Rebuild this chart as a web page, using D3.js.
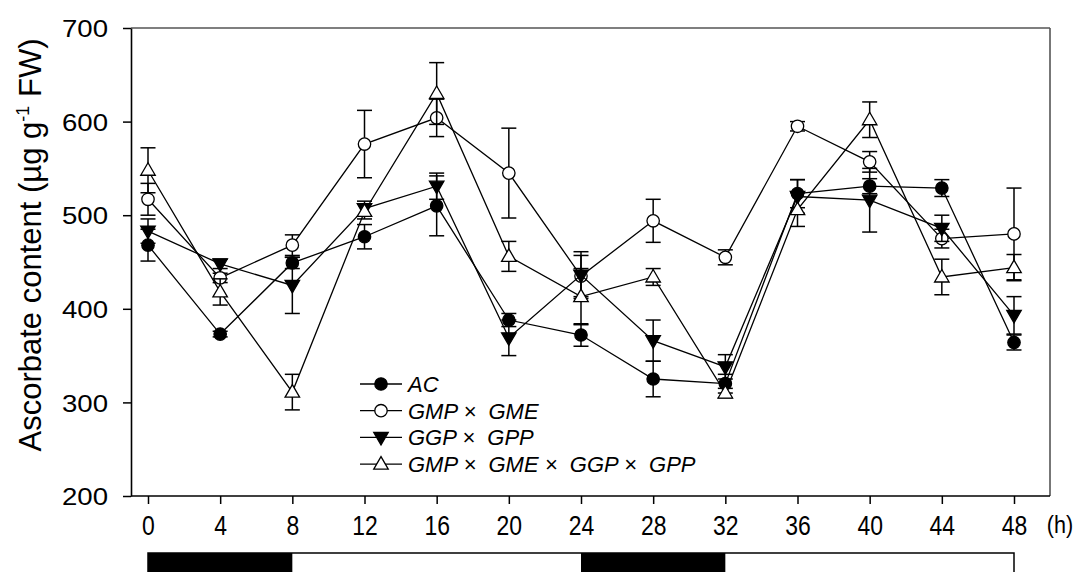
<!DOCTYPE html>
<html><head><meta charset="utf-8">
<script src="https://cdn.jsdelivr.net/npm/d3@7"></script>
<style>body{margin:0;background:#fff}svg{display:block}text{font-family:"Liberation Sans",Arial,sans-serif}</style>
</head><body>
<svg id="c" width="1079" height="572"></svg>
<script>
const hours = [0,4,8,12,16,20,24,28,32,36,40,44,48];
const yTicks = [200,300,400,500,600,700];
const seriesNames = ["AC","GMP × GME","GGP × GPP","GMP × GME × GGP × GPP"];
const acVals   = [468,373,449,477,510,388,372,325,320,523,531,529,364];
const acErr    = [17,3,6,13,32,7,12,19,10,15,8,9,8];
const gmVals   = [517,433,468,576,604,545,435,494,455,595,557,475,480];
const gmErr    = [17,5,11,36,20,48,22,23,8,5,11,10,49];
const ggVals   = [483,448,425,507,531,369,436,366,338,520,516,486,393];
const ggErr    = [13,5,30,8,14,19,25,22,13,18,34,14,20];
const allVals  = [548,418,311,504,630,456,413,434,310,506,602,434,444];
const allErr   = [24,14,19,8,33,16,30,9,5,18,19,19,14];
const darkPeriods = [[0,8],[24,32]];

const svg = d3.select("#c");
const L=131,R=1050,T=28,B=496;
const x = d3.scaleLinear().domain([0,48]).range([148,1014]);
const y = d3.scaleLinear().domain([200,700]).range([B,T]);

const series = [
  {name:seriesNames[0], v:acVals, e:acErr, shape:"circle", fill:"#000"},
  {name:seriesNames[1], v:gmVals, e:gmErr, shape:"circle", fill:"#fff"},
  {name:seriesNames[2], v:ggVals, e:ggErr, shape:"down", fill:"#000"},
  {name:seriesNames[3], v:allVals, e:allErr, shape:"up", fill:"#fff"}
];

function marker(g, shape, fill, cx, cy){
  if(shape==="circle"){
    g.append("circle").attr("cx",cx).attr("cy",cy).attr("r",6.2)
     .attr("fill",fill).attr("stroke","#000").attr("stroke-width",1.3);
  } else {
    const s = shape==="up" ? 1 : -1;
    const h=12.5, w=14.5;
    const pts = [[cx,cy-s*h*0.6],[cx-w/2,cy+s*h*0.4],[cx+w/2,cy+s*h*0.4]];
    g.append("path").attr("d","M"+pts.map(p=>p.join(",")).join("L")+"Z")
     .attr("fill",fill).attr("stroke","#000").attr("stroke-width",1.3);
  }
}

// frame
svg.append("line").attr("x1",L).attr("x2",R).attr("y1",T).attr("y2",T).attr("stroke","#555").attr("stroke-width",1.6);
svg.append("line").attr("x1",R).attr("x2",R).attr("y1",T).attr("y2",B).attr("stroke","#555").attr("stroke-width",1.6);

// y axis
const yAxis = d3.axisLeft(y).tickValues(yTicks).tickSize(8).tickPadding(0).tickSizeOuter(0);
const gy = svg.append("g").attr("transform",`translate(${L},0)`).call(yAxis);
gy.select(".domain").attr("stroke","#000").attr("stroke-width",1.6);
gy.selectAll(".tick line").attr("stroke","#000").attr("stroke-width",1.5);
gy.selectAll(".tick text").attr("font-size",24).attr("fill","#000")
  .attr("font-family","Liberation Sans, Arial, sans-serif")
  .attr("x",0).attr("dy","0.36em")
  .attr("transform","translate(-23,0) scale(1.15,1)");

// x axis
const xAxis = d3.axisBottom(x).tickValues(hours).tickSize(8).tickSizeOuter(0);
const gx = svg.append("g").attr("transform",`translate(0,${B})`).call(xAxis);
gx.select(".domain").remove();
svg.append("line").attr("x1",L).attr("x2",R).attr("y1",B).attr("y2",B).attr("stroke","#000").attr("stroke-width",1.6);
gx.selectAll(".tick line").attr("stroke","#000").attr("stroke-width",1.5);
gx.selectAll(".tick text").attr("font-size",28).attr("fill","#000")
  .attr("font-family","Liberation Sans, Arial, sans-serif")
  .attr("y",39).attr("dy",0)
  .attr("transform","scale(0.82,1)");
svg.append("text").attr("x",0).attr("y",0).attr("text-anchor","middle")
  .attr("font-size",24).attr("transform","translate(1060,533) scale(0.9,1)").text("(h)");

// y title
const yt = svg.append("text").attr("transform","translate(41,245) rotate(-90)")
  .attr("text-anchor","middle").attr("font-size",31).attr("fill","#000");
yt.append("tspan").text("Ascorbate content (µg g");
yt.append("tspan").attr("font-size",18).attr("dy",-12).text("-1");
yt.append("tspan").attr("dy",12).text(" FW)");

// data
const plot = svg.append("g");
series.forEach(s=>{
  const g = plot.append("g");
  hours.forEach((h,i)=>{
    const cx=x(h), y1=y(s.v[i]+s.e[i]), y2=y(s.v[i]-s.e[i]);
    g.append("line").attr("x1",cx).attr("x2",cx).attr("y1",y1).attr("y2",y2).attr("stroke","#000").attr("stroke-width",1.5);
    [y1,y2].forEach(yy=>g.append("line").attr("x1",cx-7.5).attr("x2",cx+7.5).attr("y1",yy).attr("y2",yy).attr("stroke","#000").attr("stroke-width",1.5));
  });
  const line = d3.line().x((d,i)=>x(hours[i])).y(d=>y(d));
  g.append("path").attr("d",line(s.v)).attr("fill","none").attr("stroke","#000").attr("stroke-width",1.3);
  hours.forEach((h,i)=>marker(g,s.shape,s.fill,x(h),y(s.v[i])));
});

// legend
const legY0=384, legDy=26.7;
series.forEach((s,i)=>{
  const yy = legY0 + i*legDy;
  const g = svg.append("g");
  g.append("line").attr("x1",360).attr("x2",402).attr("y1",yy).attr("y2",yy).attr("stroke","#000").attr("stroke-width",1.3);
  marker(g,s.shape,s.fill,381,yy);
  g.append("text").attr("x",408).attr("y",yy+8).attr("font-size",22).attr("font-style","italic")
    .attr("fill","#000").attr("xml:space","preserve").text(s.name.replace(/ × /g," ×  "));
});

// light/dark bar
const barY=553, barH=30;
svg.append("rect").attr("x",x(0)).attr("y",barY).attr("width",x(48)-x(0)).attr("height",barH)
  .attr("fill","#fff").attr("stroke","#000").attr("stroke-width",1.5);
darkPeriods.forEach(p=>svg.append("rect").attr("x",x(p[0])).attr("y",barY).attr("width",x(p[1])-x(p[0])).attr("height",barH).attr("fill","#000"));
</script>
</body></html>
